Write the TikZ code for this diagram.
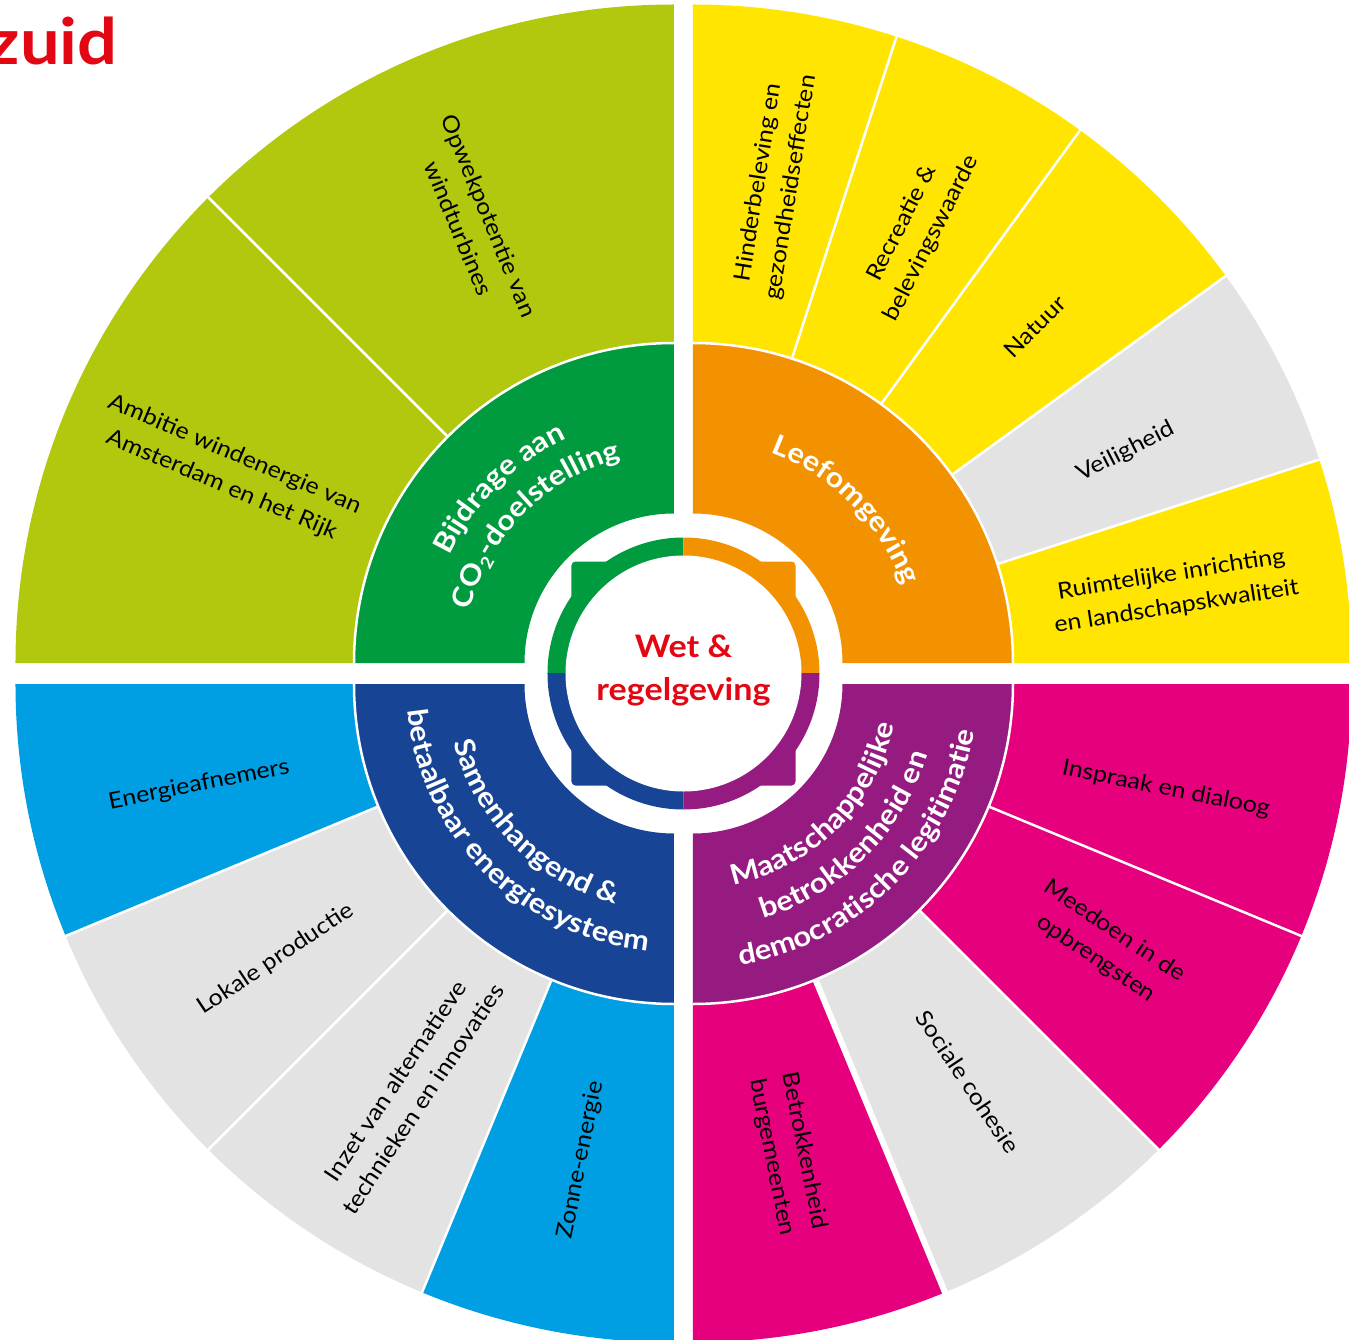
\documentclass[tikz,border=0pt]{standalone}
\usepackage{fontspec}
\setmainfont{Lato}[FakeStretch=1.1]
\usetikzlibrary{decorations.text}
\definecolor{limeC}{HTML}{B2C80F}
\definecolor{greenC}{HTML}{009A3F}
\definecolor{yellowC}{HTML}{FFE500}
\definecolor{greyC}{HTML}{E3E3E3}
\definecolor{orangeC}{HTML}{F39200}
\definecolor{magentaC}{HTML}{E6007E}
\definecolor{purpleC}{HTML}{951B81}
\definecolor{navyC}{HTML}{184496}
\definecolor{skyC}{HTML}{009FE3}
\definecolor{redC}{HTML}{E30613}
\newcommand\annsec[6]{\fill[#6] ([shift={(#1)}]#2:#4) arc[start angle=#2,end angle=#3,radius=#4] -- ([shift={(#1)}]#3:#5) arc[start angle=#3,end angle=#2,radius=#5] -- cycle;}
\newcommand\sepline[3]{\draw[white,line width=#3] ([shift={(#1)}]#2:318) -- ([shift={(#1)}]#2:663);}
\newcommand\midfont{\fontsize{28}{28}\selectfont\bfseries\color{white}}
\newcommand\arctext[5]{\path[decorate,decoration={text along path,text align=center,text={|\midfont|#5}}] ([shift={(#1)}]#2:#4) arc[start angle=#2,end angle=#3,radius=#4];}
\tikzset{
  outer/.style={font=\fontsize{22.7}{33}\selectfont, align=center, inner sep=0pt, text=black},
}
\begin{document}
\begin{tikzpicture}[x=1pt,y=1pt]
\useasboundingbox (-683.5,-665.5) rectangle (665.5,673.5);
\coordinate (TL) at (-9.5,10.5);
\coordinate (TR) at (9.5,10.5);
\coordinate (BL) at (-9.5,-10.5);
\coordinate (BR) at (9.5,-10.5);
\def\Ro{658.5}\def\Rm{320}\def\Ri{149.5}
% outer segments
\annsec{TL}{90}{180}{\Rm}{\Ro}{limeC}
\annsec{TR}{72}{90}{\Rm}{\Ro}{yellowC}
\annsec{TR}{54}{72}{\Rm}{\Ro}{yellowC}
\annsec{TR}{36}{54}{\Rm}{\Ro}{yellowC}
\annsec{TR}{18}{36}{\Rm}{\Ro}{greyC}
\annsec{TR}{0}{18}{\Rm}{\Ro}{yellowC}
\annsec{BR}{-22.5}{0}{\Rm}{\Ro}{magentaC}
\annsec{BR}{-45}{-22.5}{\Rm}{\Ro}{magentaC}
\annsec{BR}{-67.5}{-45}{\Rm}{\Ro}{greyC}
\annsec{BR}{-90}{-67.5}{\Rm}{\Ro}{magentaC}
\annsec{BL}{180}{202.5}{\Rm}{\Ro}{skyC}
\annsec{BL}{202.5}{225}{\Rm}{\Ro}{greyC}
\annsec{BL}{225}{247.5}{\Rm}{\Ro}{greyC}
\annsec{BL}{247.5}{270}{\Rm}{\Ro}{skyC}
% separators
\sepline{TL}{135}{2.5}
\sepline{TR}{72}{2.5}\sepline{TR}{54}{2.5}\sepline{TR}{36}{2.5}\sepline{TR}{18}{2.5}
\sepline{BR}{-22.5}{2.5}\sepline{BR}{-45}{2.5}\sepline{BR}{-67.5}{6}
\sepline{BL}{202.5}{2.5}\sepline{BL}{225}{2.5}\sepline{BL}{247.5}{2.5}
% middle ring
\annsec{TL}{90}{180}{\Ri}{\Rm}{greenC}
\annsec{TR}{0}{90}{\Ri}{\Rm}{orangeC}
\annsec{BR}{-90}{0}{\Ri}{\Rm}{purpleC}
\annsec{BL}{180}{270}{\Ri}{\Rm}{navyC}
\draw[white,line width=2.5] ([shift={(TL)}]90:\Rm) arc[start angle=90,end angle=180,radius=\Rm];
\draw[white,line width=2.5] ([shift={(TR)}]0:\Rm) arc[start angle=0,end angle=90,radius=\Rm];
\draw[white,line width=2.5] ([shift={(BR)}]-90:\Rm) arc[start angle=-90,end angle=0,radius=\Rm];
\draw[white,line width=2.5] ([shift={(BL)}]180:\Rm) arc[start angle=180,end angle=270,radius=\Rm];
% centre ring with tabs
\begin{scope}\clip (0,0) rectangle (-200,200);
 \fill[greenC] (0,0) circle[radius=136]; \fill[greenC,rounded corners=4] (-112,-112) rectangle (112,112);\end{scope}
\begin{scope}\clip (0,0) rectangle (200,200);
 \fill[orangeC] (0,0) circle[radius=136]; \fill[orangeC,rounded corners=4] (-112,-112) rectangle (112,112);\end{scope}
\begin{scope}\clip (0,0) rectangle (200,-200);
 \fill[purpleC] (0,0) circle[radius=136]; \fill[purpleC,rounded corners=4] (-112,-112) rectangle (112,112);\end{scope}
\begin{scope}\clip (0,0) rectangle (-200,-200);
 \fill[navyC] (0,0) circle[radius=136]; \fill[navyC,rounded corners=4] (-112,-112) rectangle (112,112);\end{scope}
\fill[white] (0,0) circle[radius=118];
% centre text
\node[font=\fontsize{31}{42.7}\selectfont\bfseries, text=redC, align=center, inner sep=0pt] (wet) at (0,3) {Wet \&\\regelgeving};
\node[font=\fontsize{64}{64}\selectfont\bfseries, text=redC, anchor=base east, inner sep=0pt] (zuid) at (-565.5,608.5) {zuid};
% middle ring texts
\arctext{TL}{180}{90}{249}{Bijdrage aan}
\arctext{TL}{180}{90}{211}{CO{\raisebox{-5pt}{\fontsize{17}{17}\selectfont 2}}-doelstelling}
\arctext{TR}{90}{0}{224}{Leefomgeving}
\arctext{BL}{180}{270}{228}{Samenhangend {\&}}
\arctext{BL}{180}{270}{268}{betaalbaar energiesysteem}
\arctext{BR}{270}{360}{205}{Maatschappelijke}
\arctext{BR}{270}{360}{245}{betrokkenheid en}
\arctext{BR}{270}{360}{285}{democratische legitimatie}
% outer labels
\node[outer, rotate=-67.5] (opw) at (-209.5,451.5) {Opwekpotentie van\\windturbines};
\node[outer, rotate=-23] (amb) at (-455.5,203.5) {Ambitie windenergie van\\Amsterdam en het Rijk};
\node[outer, rotate=81] (hin) at (91.5,488.5) {Hinderbeleving en\\gezondheidseffecten};
\node[outer, rotate=63] (rec) at (233.5,442.5) {Recreatie \&\\belevingswaarde};
\node[outer, rotate=45] (nat) at (351.5,346.5) {Natuur};
\node[outer, rotate=27] (vei) at (442.5,221.5) {Veiligheid};
\node[outer, rotate=9] (rui) at (490.5,82.5) {Ruimtelijke inrichting\\en landschapskwaliteit};
\node[outer, rotate=-11.25] (ins) at (482.5,-115.5) {Inspraak en dialoog};
\node[outer, rotate=-33.75] (mee) at (421.5,-271.5) {Meedoen in de\\opbrengsten};
\node[outer, rotate=-56.25] (soc) at (284.5,-408.5) {Sociale cohesie};
\node[outer, rotate=-78.75] (bet) at (104.5,-480.5) {Betrokkenheid\\burgemeenten};
\node[outer, rotate=11.25] (ene) at (-484.5,-111.5) {Energieafnemers};
\node[outer, rotate=33.75] (lok) at (-407.5,-285.5) {Lokale productie};
\node[outer, rotate=56.25] (inz) at (-274.5,-416.5) {Inzet van alternatieve\\technieken en innovaties};
\node[outer, rotate=78.75] (zon) at (-102.5,-486.5) {Zonne-energie};
\end{tikzpicture}
\end{document}
